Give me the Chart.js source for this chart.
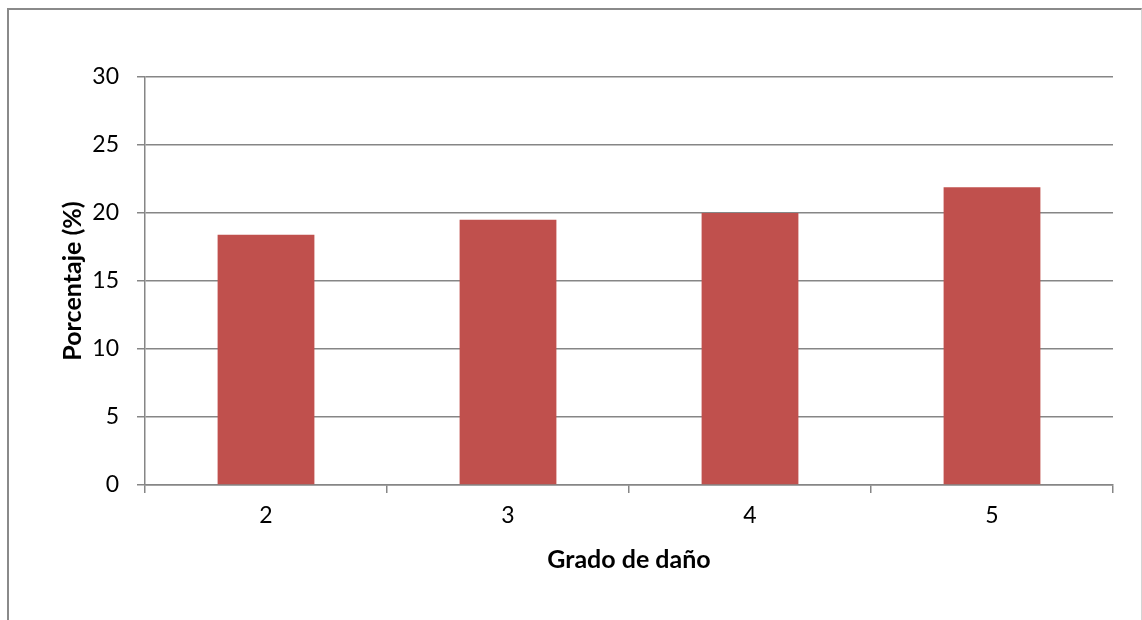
<!DOCTYPE html>
<html>
<head>
<meta charset="utf-8">
<script src="https://cdn.jsdelivr.net/npm/chart.js@4/dist/chart.umd.min.js"></script>
<style>
  html, body { margin: 0; padding: 0; background: #ffffff; }
  #wrap { position: relative; width: 1142px; height: 620px; overflow: hidden; }
  #frame {
    position: absolute; left: 7px; top: 8px; width: 1132px; height: 640px;
    border-left: 2px solid #8a8a8a; border-top: 2px solid #8a8a8a;
    border-right: 1px solid #d4d4d4; pointer-events: none;
  }
  canvas { position: absolute; left: 0; top: 0; }
</style>
</head>
<body>
<div id="wrap">
  <canvas id="chart" width="1142" height="620"></canvas>
  <div id="frame"></div>
</div>
<script>
// Damage grade categories and the share of each (%)
const categories = ['2', '3', '4', '5'];
const percentages = [18.4, 19.5, 20.0, 21.9];
const yTickValues = [0, 5, 10, 15, 20, 25, 30];

const gridGray = '#868686';
const barRed = '#C0504D';
const fontFamily = 'Lato, "Open Sans", sans-serif';

new Chart(document.getElementById('chart'), {
  type: 'bar',
  data: {
    labels: categories,
    datasets: [{
      data: percentages,
      backgroundColor: barRed,
      borderWidth: 0,
      barPercentage: 0.4,
      categoryPercentage: 1.0
    }]
  },
  options: {
    responsive: false,
    animation: false,
    layout: { padding: { left: 0, right: 29, top: 77, bottom: 0 } },
    plugins: { legend: { display: false }, tooltip: { enabled: false } },
    scales: {
      x: {
        grid: {
          display: true,
          drawOnChartArea: false,
          drawTicks: true,
          tickLength: 8,
          color: gridGray,
          lineWidth: 1.5
        },
        border: { display: true, color: gridGray, width: 1.5 },
        ticks: {
          color: '#000000',
          font: { family: fontFamily, size: 23 },
          padding: 9
        },
        title: {
          display: true,
          text: 'Grado de daño',
          color: '#000000',
          font: { family: fontFamily, size: 25, weight: 'bold' },
          padding: { top: 0, bottom: 45 }
        },
        afterFit: (scale) => { scale.height = 135; }
      },
      y: {
        min: 0,
        max: 30,
        afterBuildTicks: (scale) => {
          scale.ticks = yTickValues.map(v => ({ value: v }));
        },
        grid: {
          color: gridGray,
          lineWidth: 1.5,
          drawTicks: true,
          tickLength: 8
        },
        border: { display: true, color: gridGray, width: 1.5 },
        ticks: {
          color: '#000000',
          font: { family: fontFamily, size: 23 },
          padding: 18
        },
        title: {
          display: true,
          text: 'Porcentaje (%)',
          color: '#000000',
          font: { family: fontFamily, size: 25, weight: 'bold' },
          padding: { top: 58, bottom: 0 }
        },
        afterFit: (scale) => { scale.width = 145; }
      }
    }
  }
});
</script>
</body>
</html>
